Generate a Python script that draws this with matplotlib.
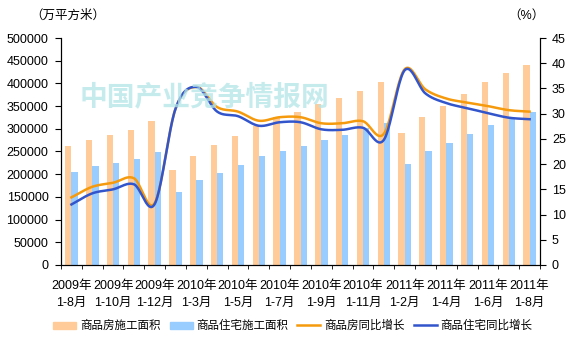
import numpy as np
import matplotlib
matplotlib.use("Agg")
import matplotlib.pyplot as plt
from matplotlib.patches import Patch
from matplotlib.lines import Line2D

plt.rcParams['font.family'] = ['Liberation Sans', 'Noto Sans CJK SC']

periods = ["2009年\n1-8月", "2009年\n1-9月", "2009年\n1-10月", "2009年\n1-11月", "2009年\n1-12月",
           "2010年\n1-2月", "2010年\n1-3月", "2010年\n1-4月", "2010年\n1-5月", "2010年\n1-6月",
           "2010年\n1-7月", "2010年\n1-8月", "2010年\n1-9月", "2010年\n1-10月", "2010年\n1-11月",
           "2010年\n1-12月", "2011年\n1-2月", "2011年\n1-3月", "2011年\n1-4月", "2011年\n1-5月",
           "2011年\n1-6月", "2011年\n1-7月", "2011年\n1-8月"]

# 施工面积（万平方米）
area_all = [262000, 275000, 286000, 297000, 318000, 209000, 241000, 265000, 284000, 306000,
            327000, 336000, 355000, 368000, 384000, 403000, 291000, 327000, 350000, 377000,
            403000, 424000, 441000]
area_house = [205000, 217000, 225000, 233000, 249000, 161000, 187000, 203000, 221000, 239000,
              251000, 263000, 275000, 286000, 301000, 313000, 222000, 251000, 269000, 289000,
              308000, 323000, 337000]

# 同比增长（%）
growth_all = [13.4, 15.5, 16.3, 17.2, 12.3, 31.0, 35.3, 31.3, 30.4, 28.6, 29.3, 29.3, 28.1,
              28.1, 28.5, 26.0, 38.8, 34.8, 33.0, 32.2, 31.5, 30.7, 30.4]
growth_house = [12.0, 14.2, 15.0, 16.0, 12.1, 31.0, 35.3, 30.4, 29.5, 27.6, 28.3, 28.3, 26.9,
                26.8, 27.2, 24.8, 38.6, 34.0, 32.1, 31.1, 30.1, 29.2, 28.9]

c_bar1 = "#ffcc99"
c_bar2 = "#99ccff"
c_line1 = "#f59a0c"
c_line2 = "#3355cc"


def smooth(x, y, n=24):
    # Catmull-Rom curve through the points, like a spreadsheet "smoothed line"
    x = np.asarray(x, float)
    y = np.asarray(y, float)
    px = np.concatenate([[2 * x[0] - x[1]], x, [2 * x[-1] - x[-2]]])
    py = np.concatenate([[2 * y[0] - y[1]], y, [2 * y[-1] - y[-2]]])
    t = np.linspace(0, 1, n, endpoint=False)
    xs, ys = [], []
    for i in range(1, len(px) - 2):
        for p, out in ((px, xs), (py, ys)):
            p0, p1, p2, p3 = p[i - 1], p[i], p[i + 1], p[i + 2]
            out.extend(0.5 * (2 * p1 + (-p0 + p2) * t + (2 * p0 - 5 * p1 + 4 * p2 - p3) * t ** 2
                              + (-p0 + 3 * p1 - 3 * p2 + p3) * t ** 3))
    xs.append(x[-1])
    ys.append(y[-1])
    return xs, ys


fig = plt.figure(figsize=(5.74, 3.44), dpi=100)
ax = fig.add_axes([0.1063, 0.2297, 0.8345, 0.6598])
x = np.arange(len(periods))
w = 0.3
ax.bar(x - w / 2, area_all, w, color=c_bar1, zorder=2)
ax.bar(x + w / 2, area_house, w, color=c_bar2, zorder=2)
ax.set_xlim(-0.5, len(periods) - 0.5)
ax.set_ylim(0, 500000)
ax.set_yticks(np.arange(0, 500001, 50000))
ax.set_xticks(x[::2])
ax.set_xticklabels(periods[::2], fontsize=9, linespacing=1.55)
ax.set_xticks(np.arange(-0.5, len(periods), 1), minor=True)
ax.tick_params(axis='x', which='major', length=0, pad=11)
ax.tick_params(axis='x', which='minor', length=3, direction='out')
ax.tick_params(axis='y', labelsize=9, length=4, direction='out', pad=5)
ax.spines['top'].set_visible(False)

ax2 = ax.twinx()
ax2.set_ylim(0, 45)
ax2.set_yticks(np.arange(0, 46, 5))
ax2.tick_params(axis='y', labelsize=9, length=4, direction='out', pad=4.5)
ax2.spines['top'].set_visible(False)
sx, sy = smooth(x, growth_all)
ax2.plot(sx, sy, color=c_line1, lw=1.8, zorder=3)
sx, sy = smooth(x, growth_house)
ax2.plot(sx, sy, color=c_line2, lw=1.8, zorder=4)

fig.text(0.357, 0.715, "中国产业竞争情报网", fontsize=20, fontweight='bold', color="#b4e5e8",
         alpha=0.75, ha='center', va='center', zorder=1)

fig.text(0.052, 0.955, "（万平方米）", fontsize=9, ha='left', va='center')
fig.text(0.885, 0.955, "（%）", fontsize=9, ha='left', va='center')

handles = [Patch(color=c_bar1), Patch(color=c_bar2),
           Line2D([], [], color=c_line1, lw=1.8), Line2D([], [], color=c_line2, lw=1.8)]
labels = ["商品房施工面积", "商品住宅施工面积", "商品房同比增长", "商品住宅同比增长"]
fig.legend(handles, labels, loc='center', bbox_to_anchor=(0.51, 0.052), ncol=4, frameon=False,
           fontsize=8.3, handlelength=2.0, handleheight=0.55, columnspacing=0.8, handletextpad=0.3)

fig.savefig("out.png", dpi=100)
